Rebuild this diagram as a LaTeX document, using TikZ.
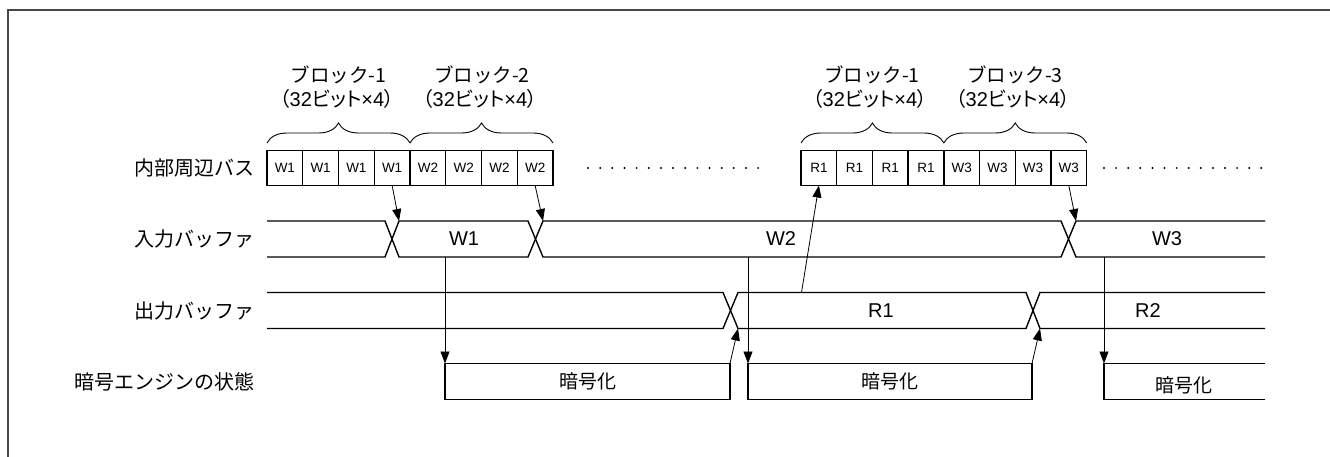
\documentclass[tikz,border=0pt]{standalone}
\usepackage{fontspec}
\setmainfont{Liberation Sans}
\newfontfamily\jp{Noto Sans CJK JP}
\newfontfamily\jpp[RawFeature=+palt]{Noto Sans CJK JP}
\newcommand{\bitsfour}{{\jpp （}32{\jpp ビット}×4{\jpp ）}}
\usetikzlibrary{arrows.meta,decorations.pathreplacing}
\begin{document}
\begin{tikzpicture}[x=1pt,y=-1pt,
  sig/.style={line width=1.4pt, line join=miter},
  cell/.style={draw, line width=1.3pt, minimum width=35.75pt, minimum height=35pt,
    inner sep=0pt, outer sep=0pt, anchor=west, font=\fontsize{13.5}{15}\selectfont},
  engbox/.style={draw, line width=1.4pt, minimum height=36pt, inner sep=0pt, outer sep=0pt,
    font=\jp\fontsize{19}{22}\selectfont},
  arr/.style={line width=0.8pt, -{Triangle[length=12pt,width=9pt]}},
  rowlab/.style={anchor=east, inner sep=0pt, font=\jp\fontsize{20}{23}\selectfont},
  val/.style={inner sep=0pt, font=\fontsize{20}{24}\selectfont},
  jval/.style={inner sep=0pt, font=\jp\fontsize{19}{22}\selectfont},
  blk/.style={inner sep=0pt, font=\jp\fontsize{19.5}{22}\selectfont},
  blkp/.style={inner sep=0pt, font=\fontsize{20}{22}\selectfont},
  brc/.style={line width=0.9pt, decorate, decoration={brace, amplitude=20pt}},
  frame/.style={line width=2pt, draw=black!72}
]
\useasboundingbox (0,0) rectangle (1330,457);
% frame
\draw[frame] (1330,10) -- (8,10) -- (8,457);

% row labels
\node[rowlab] (l1) at (255,168) {内部周辺バス};
\node[rowlab] (l2) at (255,239) {入力バッファ};
\node[rowlab] (l3) at (255,310.5) {出力バッファ};
\node[rowlab] (l4) at (255,382) {暗号エンジンの状態};

% bus cells, group 1
\foreach \i/\t in {1/W1,2/W1,3/W1,4/W1,5/W2,6/W2,7/W2,8/W2}
  \node[cell] (b\i) at ({267+(\i-1)*35.75},168) {\t};
% bus cells, group 2
\foreach \i/\t in {1/R1,2/R1,3/R1,4/R1,5/W3,6/W3,7/W3,8/W3}
  \node[cell] (c\i) at ({801+(\i-1)*35.7},168) {\t};

% braces
\draw[brc] ([yshift=7.5pt]b1.north west) -- ([yshift=7.5pt]b4.north east);
\draw[brc] ([yshift=7.5pt]b5.north west) -- ([yshift=7.5pt]b8.north east);
\draw[brc] ([yshift=7.5pt]c1.north west) -- ([yshift=7.5pt]c4.north east);
\draw[brc] ([yshift=7.5pt]c5.north west) -- ([yshift=7.5pt]c8.north east);

% block labels
\node[blk] (t1) at (338.5,75) {ブロック-1};
\node[blkp] (p1) at (337,98.5) {\bitsfour};
\node[blk] (t2) at (482,75) {ブロック-2};
\node[blkp] (p2) at (480,98.5) {\bitsfour};
\node[blk] (t3) at (872,75) {ブロック-1};
\node[blkp] (p3) at (870,98.5) {\bitsfour};
\node[blk] (t4) at (1015,75) {ブロック-3};
\node[blkp] (p4) at (1013,98.5) {\bitsfour};

% dots
\foreach \k in {0,...,14} \fill (588+\k*12.15,168) circle (1.1pt);
\foreach \k in {0,...,13} \fill (1104+\k*12.1,168) circle (1.1pt);

% input buffer
\draw[sig] (267,221) -- (385,221) -- (399,257) -- (528,257) -- (543,221) -- (1061,221) -- (1076,257) -- (1265,257);
\draw[sig] (267,257) -- (385,257) -- (399,221) -- (528,221) -- (543,257) -- (1061,257) -- (1076,221) -- (1265,221);
\node[val] (vw1) at (464,239) {W1};
\node[val] (vw2) at (781,239) {W2};
\node[val] (vw3) at (1167,239) {W3};

% output buffer
\draw[sig] (267,292.5) -- (723,292.5) -- (738,328.5) -- (1026,328.5) -- (1040,292.5) -- (1265,292.5);
\draw[sig] (267,328.5) -- (723,328.5) -- (738,292.5) -- (1026,292.5) -- (1040,328.5) -- (1265,328.5);
\node[val] (vr1) at (881,310.5) {R1};
\node[val] (vr2) at (1148,310.5) {R2};

% engine state
\node[engbox, minimum width=285pt] (e1) at (587.5,381.5) {暗号化};
\node[engbox, minimum width=284pt] (e2) at (890,381.5) {暗号化};
\draw[sig] (1265,363.5) -- (1104,363.5) coordinate (e3) -- (1104,399.5) -- (1265,399.5);
\node[jval] (e3t) at (1184,385) {暗号化};

% connector points
\coordinate (i1) at (399,221);
\coordinate (i2) at (543,221);
\coordinate (i3) at (1076,221);
\coordinate (ib1) at (445,257);
\coordinate (ib2) at (748,257);
\coordinate (ib3) at (1104,257);
\coordinate (o1) at (738,328.5);
\coordinate (o2) at (1040,328.5);
\coordinate (ot1) at (801.5,292.5);

% connectors
\draw[arr] (b4.south) -- (i1);
\draw[arr] (b8.south) -- (i2);
\draw[arr] (c8.south) -- (i3);
\draw[arr] (ib1) -- (e1.north west);
\draw[arr] (ib2) -- (e2.north west);
\draw[arr] (ib3) -- (e3);
\draw[arr] (e1.north east) -- (o1);
\draw[arr] (e2.north east) -- (o2);
\draw[arr] (ot1) -- (c1.south);
\end{tikzpicture}
\end{document}
